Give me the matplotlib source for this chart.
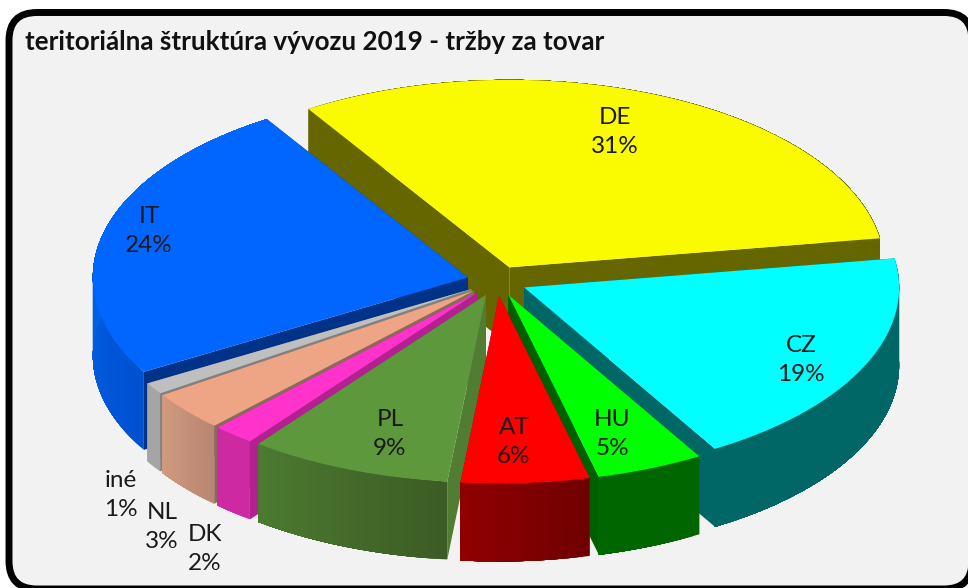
import numpy as np
import matplotlib
matplotlib.use("Agg")
import matplotlib.pyplot as plt
from matplotlib.colors import to_rgb
from matplotlib.patches import FancyBboxPatch, Polygon

# values, the labels carry the rounded percent
names = ["DE", "CZ", "HU", "AT", "PL", "DK", "NL", "iné", "IT"]
values = [31.4, 18.9, 4.6, 5.5, 8.7, 1.8, 3.4, 1.0, 24.3]
percent_labels = ["31%", "19%", "5%", "6%", "9%", "2%", "3%", "1%", "24%"]

top_colors = ["#fbfb00", "#00ffff", "#00ff00", "#ff0000", "#5e983c", "#ff33cc", "#eea586", "#bfbfbf", "#0066ff"]
wall_start = ["#666600", "#006666", "#006600", "#700000", "#3c5c25", "#cc29a3", "#b98672", "#a5a5a5", "#0050d0"]
wall_end = ["#666600", "#006666", "#006600", "#900000", "#4c7a30", "#cc29a3", "#d09a80", "#a5a5a5", "#0078ff"]
cut_colors = ["#666600", "#006666", "#006000", "#8f0000", "#507d32", "#b3208f", "#8a6a5a", "#808080", "#003388"]

# painter's order, back to front
draw_order = ["DE", "IT", "CZ", "iné", "NL", "DK", "PL", "HU", "AT"]

# where the two line labels sit
label_xy = {"DE": (615, 132), "CZ": (801, 360), "HU": (612, 434), "AT": (514, 442),
            "PL": (390, 434), "DK": (205, 549), "NL": (162, 527), "iné": (121, 495),
            "IT": (149, 231)}

# pie geometry in pixels
cx, cy = 497, 281
radius = 375
squash = 0.5
explode = 30
depth = 78
start_angle = -32.4

fig = plt.figure(figsize=(9.68, 5.88), dpi=100)
ax = fig.add_axes([0, 0, 1, 1])
ax.set_xlim(0, 968)
ax.set_ylim(588, 0)
ax.axis("off")

frame = FancyBboxPatch((9, 12.5), 963, 576.5, boxstyle="round,pad=0,rounding_size=28",
                       facecolor="#f2f2f2", edgecolor="black", linewidth=5, zorder=0)
ax.add_patch(frame)


def rim(ox, oy, angles):
    a = np.radians(angles)
    return np.column_stack([ox + radius * np.sin(a), oy - squash * radius * np.cos(a)])


total = sum(values)
edges = start_angle + np.cumsum([0] + values) * 360 / total
z = 1
for name in draw_order:
    i = names.index(name)
    a0, a1 = edges[i], edges[i + 1]
    mid = np.radians((a0 + a1) / 2)
    ox = cx + explode * np.sin(mid)
    oy = cy - squash * explode * np.cos(mid)
    angles = np.linspace(a0, a1, max(int(a1 - a0), 2) + 1)
    pts = rim(ox, oy, angles)
    drop = np.array([0, depth])
    apex = np.array([ox, oy])

    # the two cut walls go under the outer wall
    for p in (pts[0], pts[-1]):
        ax.add_patch(Polygon([apex, p, p + drop, apex + drop], facecolor=cut_colors[i],
                             edgecolor="none", zorder=z))
    z += 1

    # outer wall: every piece runs to the slice end and the next one paints over it, so no seams
    c0, c1 = np.array(to_rgb(wall_start[i])), np.array(to_rgb(wall_end[i]))
    for k in range(len(pts) - 1):
        shade = c0 + (c1 - c0) * k / max(len(pts) - 2, 1)
        rest = pts[k:]
        ax.add_patch(Polygon(np.vstack([rest, rest[::-1] + drop]), facecolor=shade,
                             edgecolor="none", zorder=z))
        z += 1

    # top face
    ax.add_patch(Polygon(np.vstack([apex, pts]), facecolor=top_colors[i], edgecolor="none", zorder=z))
    z += 1

ax.text(25, 42, "teritoriálna štruktúra vývozu 2019 - tržby za tovar", fontsize=18.7, fontweight="bold",
        family="Lato", color="#111111", ha="left", va="center", zorder=z)

for name, pct in zip(names, percent_labels):
    x, y = label_xy[name]
    ax.text(x, y, name + "\n" + pct, fontsize=17.5, family="Lato", color="#1a1a1a",
            ha="center", va="center", linespacing=1.52, zorder=z)

fig.savefig("out.png", dpi=100, facecolor="white")
